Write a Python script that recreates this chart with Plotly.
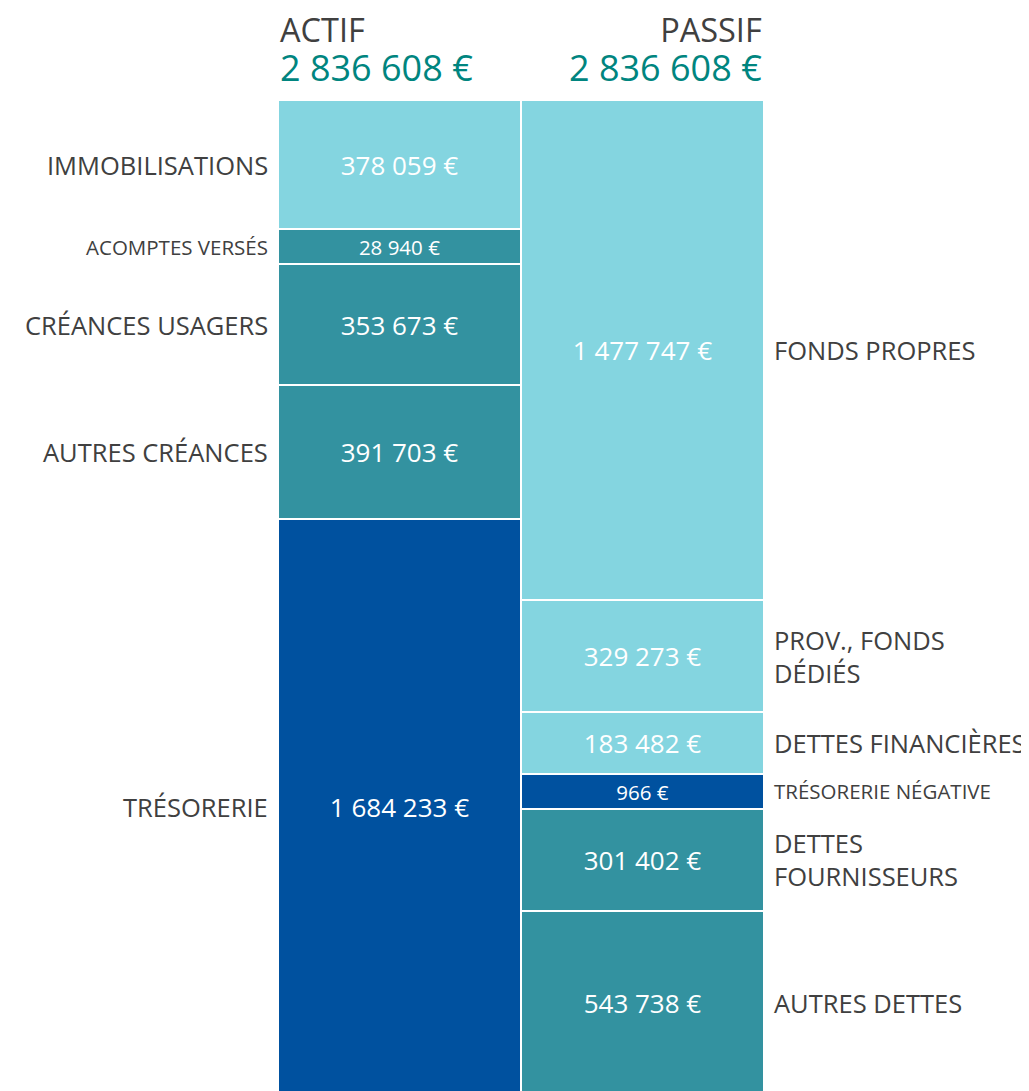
import plotly.graph_objects as go

# ---- data ----
actif_labels = ["IMMOBILISATIONS", "ACOMPTES VERSÉS", "CRÉANCES USAGERS", "AUTRES CRÉANCES", "TRÉSORERIE"]
actif_values = [378059, 28940, 353673, 391703, 1684233]
actif_colors = ["#84D5E0", "#3392A0", "#3392A0", "#3392A0", "#00519F"]

passif_labels = ["FONDS PROPRES", "PROV., FONDS<br>DÉDIÉS", "DETTES FINANCIÈRES", "TRÉSORERIE NÉGATIVE",
                 "DETTES<br>FOURNISSEURS", "AUTRES DETTES"]
passif_values = [1477747, 329273, 183482, 966, 301402, 543738]
passif_colors = ["#84D5E0", "#84D5E0", "#84D5E0", "#00519F", "#3392A0", "#3392A0"]

columns = ["ACTIF", "PASSIF"]

# ---- style ----
FONT = "Open Sans"
MIN_SHARE = 35 / 995      # minimal visible thickness of a segment
SMALL_SHARE = 0.02        # segments below this share use small text
GREY = "#404040"
TEAL = "#00857F"
PAGE_OFFSET = 8           # default body margin of the html page
W, H = 1029 - PAGE_OFFSET, 1091 - PAGE_OFFSET
ML, MR, MT, MB = 278 - PAGE_OFFSET, 1029 - 764, 100 - PAGE_OFFSET, 0
HIDDEN_BOTTOM_PX = 4
VAL_BIG, LAB_BIG, SMALL = 26, 25.5, 20.5
HEAD_SIZE, TOTAL_SIZE, HEAD_LINE = 32.5, 36, 30


def fmt(v):
    return f"{v:,}".replace(",", " ") + " €"


def display_heights(values):
    total = sum(values)
    small = [v < MIN_SHARE * total for v in values]
    n_small = sum(small)
    rest = sum(v for v, s in zip(values, small) if not s)
    scale = (total - n_small * MIN_SHARE * total) / rest
    return [MIN_SHARE * total if s else v * scale for v, s in zip(values, small)]


fig = go.Figure()
annotations = []

plot_h = H - MT - MB

for col, labels, values, colors, side in [
    (columns[0], actif_labels, actif_values, actif_colors, "left"),
    (columns[1], passif_labels, passif_values, passif_colors, "right"),
]:
    total = sum(values)
    heights = display_heights(values)
    cum = 0
    for lab, v, h, c in zip(labels, values, heights, colors):
        small = v / total < SMALL_SHARE
        vsize = SMALL if small else VAL_BIG
        lsize = SMALL if small else LAB_BIG
        fig.add_trace(go.Bar(
            x=[col], y=[h], marker=dict(color=c, line=dict(color="white", width=2)),
            text=[fmt(v)], textposition="inside", insidetextanchor="middle",
            textfont=dict(family=FONT, size=vsize, color="white"),
            constraintext="none", hoverinfo="skip", showlegend=False,
        ))
        mid = cum + h / 2
        cum += h
        annotations.append(dict(
            text=lab, xref="paper", yref="y",
            x=0 if side == "left" else 1, y=mid,
            xanchor="right" if side == "left" else "left", yanchor="middle",
            xshift=-8 if side == "left" else 8, align="left",
            showarrow=False, font=dict(family=FONT, size=lsize, color=GREY),
        ))
    # header: column name + total
    head = (f"<span style='font-size:{HEAD_SIZE}px'>{col}</span><br>"
            f"<span style='font-size:{TOTAL_SIZE}px;color:{TEAL}'>{fmt(total)}</span>")
    annotations.append(dict(
        text=head, xref="paper", yref="paper",
        x=0 if side == "left" else 1, y=1 + 51 / plot_h,
        xanchor="left" if side == "left" else "right", yanchor="middle",
        align="left" if side == "left" else "right",
        showarrow=False, font=dict(family=FONT, size=HEAD_LINE, color=GREY),
    ))

grand_total = sum(actif_values)
fig.update_layout(
    width=W, height=H, margin=dict(l=ML, r=MR, t=MT, b=MB),
    barmode="stack", bargap=0,
    plot_bgcolor="white", paper_bgcolor="white",
    xaxis=dict(visible=False, range=[-0.5, 1.5]),
    yaxis=dict(visible=False, range=[grand_total * (1 - HIDDEN_BOTTOM_PX / (plot_h + HIDDEN_BOTTOM_PX)), 0]),
    annotations=annotations, showlegend=False,
    font=dict(family=FONT),
)

fig.write_html("out.html")
